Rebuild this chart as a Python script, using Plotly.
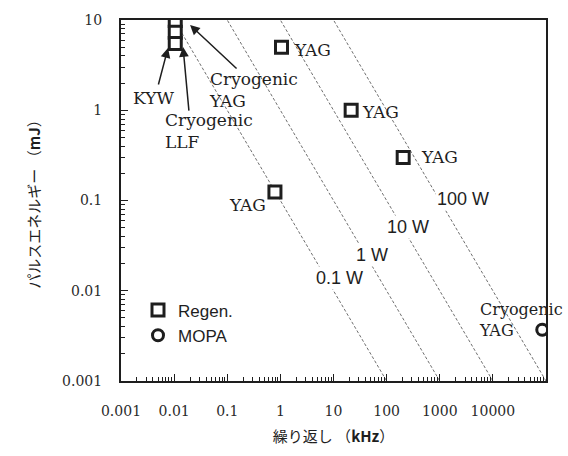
import numpy as np
import plotly.graph_objects as go

# ---- data ----
regen_freq_khz = [0.0105, 0.0105, 0.0105, 1.05, 21.5, 205, 0.79]
regen_energy_mj = [9.9, 7.3, 5.5, 5.0, 1.0, 0.30, 0.124]
mopa_freq_khz = [85000]
mopa_energy_mj = [0.0037]
power_levels_w = [0.1, 1, 10, 100]
power_labels = ["0.1 W", "1 W", "10 W", "100 W"]
x_tick_vals = [0.001, 0.01, 0.1, 1, 10, 100, 1000, 10000]
x_tick_text = ["0.001", "0.01", "0.1", "1", "10", "100", "1000", "10000"]
y_tick_vals = [0.001, 0.01, 0.1, 1, 10]
y_tick_text = ["0.001", "0.01", "0.1", "1", "10"]
x_range = [0.001, 100000]
y_range = [0.001, 10]

SERIF = "'DejaVu Serif', serif"
SANS = "'Liberation Sans', Arial, sans-serif"
JP = "'Noto Sans CJK JP', sans-serif"
INK = "#1e1e1e"

fig = go.Figure()

# constant-power lines E = P / f
f_ends = np.array(x_range, dtype=float)
for p in power_levels_w:
    fig.add_trace(go.Scatter(x=f_ends, y=p / f_ends, mode="lines",
                             line=dict(color="#707070", width=1, dash="3px,2px"),
                             showlegend=False, hoverinfo="skip"))

fig.add_trace(go.Scatter(x=regen_freq_khz, y=regen_energy_mj, mode="markers", name="Regen.",
                         cliponaxis=True,
                         marker=dict(symbol="square", size=12, color="white",
                                     line=dict(color=INK, width=3))))
fig.add_trace(go.Scatter(x=mopa_freq_khz, y=mopa_energy_mj, mode="markers", name="MOPA",
                         marker=dict(symbol="circle", size=11, color="white",
                                     line=dict(color=INK, width=3))))

ann = []
lg = np.log10
# power labels
power_label_pos = [(1.105, -1.859), (1.727, -1.604), (2.405, -1.294), (3.44, -0.983)]
for txt, (lx, ly) in zip(power_labels, power_label_pos):
    ann.append(dict(x=lx, y=ly, xref="x", yref="y", text=txt, showarrow=False,
                    font=dict(family=SANS, size=18, color=INK), bgcolor="white",
                    borderpad=1))

tfont = dict(family=SERIF, size=17, color=INK)
# YAG point labels
ann.append(dict(x=lg(regen_freq_khz[3]), y=lg(regen_energy_mj[3]), text="YAG", showarrow=False,
                xanchor="left", xshift=10, yshift=-3, font=tfont))
ann.append(dict(x=lg(regen_freq_khz[4]), y=lg(regen_energy_mj[4]), text="YAG", showarrow=False,
                xanchor="left", xshift=9, yshift=-2, font=tfont))
ann.append(dict(x=lg(regen_freq_khz[5]), y=lg(regen_energy_mj[5]), text="YAG", showarrow=False,
                xanchor="left", xshift=16, yshift=0, font=tfont))
ann.append(dict(x=lg(regen_freq_khz[6]), y=lg(regen_energy_mj[6]), text="YAG", showarrow=False,
                xanchor="right", xshift=-7, yshift=-13, font=tfont))
ann.append(dict(x=lg(mopa_freq_khz[0]), y=lg(mopa_energy_mj[0]), text="Cryogenic<br>YAG",
                showarrow=False, xanchor="left", align="left", xshift=-65, yshift=10,
                font=dict(family=SERIF, size=16, color=INK)))

# cluster labels
ann.append(dict(x=-2.397, y=0.136, text="KYW", showarrow=False, font=tfont))
ann.append(dict(x=-2.209, y=-0.23, text="Cryogenic<br>LLF", showarrow=False,
                xanchor="left", align="left", font=tfont))
ann.append(dict(x=-1.380, y=0.222, text="Cryogenic<br>YAG", showarrow=False,
                xanchor="left", align="left", font=tfont))
# arrows
for hx, hy, axp, ayp in [(-2.115, 0.69, -10, 38), (-1.832, 0.70, 6, 65), (-1.70, 0.945, 48, 45)]:
    ann.append(dict(x=hx, y=hy, xref="x", yref="y", text="", showarrow=True,
                    ax=axp, ay=ayp, arrowhead=2, arrowsize=1.3, arrowwidth=1.5,
                    arrowcolor=INK, standoff=0))

fig.update_layout(annotations=ann)


def minors(lo, hi):
    out = []
    for k in range(int(round(np.log10(lo))), int(round(np.log10(hi)))):
        for m in range(2, 10):
            out.append(m * 10.0 ** k)
    return out


axis_common = dict(type="log", showgrid=False, zeroline=False, showline=True,
                   linecolor=INK, linewidth=2, mirror=True, ticks="inside",
                   ticklen=7, tickwidth=1, tickcolor=INK, tickmode="array",
                   tickfont=dict(family=SERIF, size=14, color="#2a2a2a"))

fig.update_xaxes(**axis_common, range=[lg(x_range[0]), lg(x_range[1])],
                 tickvals=x_tick_vals, ticktext=x_tick_text, ticklabelstandoff=16,
                 minor=dict(tickmode="array", tickvals=minors(*x_range), ticks="inside",
                            ticklen=4, tickwidth=1, tickcolor=INK, showgrid=False),
                 title=dict(text="繰り返し （<b>kHz</b>）",
                            font=dict(family=JP, size=15, color=INK), standoff=14))
fig.update_yaxes(**axis_common, range=[lg(y_range[0]), lg(y_range[1])],
                 tickvals=y_tick_vals, ticktext=y_tick_text, ticklabelstandoff=14,
                 minor=dict(tickmode="array", tickvals=minors(*y_range), ticks="inside",
                            ticklen=4, tickwidth=1, tickcolor=INK, showgrid=False),
                 title=dict(text="パルスエネルギー （<b>mJ</b>）",
                            font=dict(family=JP, size=15, color=INK), standoff=18))

fig.update_layout(
    width=568, height=456,
    margin=dict(l=121, r=22, t=20, b=75),
    paper_bgcolor="white", plot_bgcolor="white",
    showlegend=True,
    legend=dict(x=0.04, y=0.245, xanchor="left", yanchor="top",
                bgcolor="rgba(0,0,0,0)", font=dict(family=SANS, size=17, color=INK),
                tracegroupgap=0),
)

fig.write_html("out.html")
